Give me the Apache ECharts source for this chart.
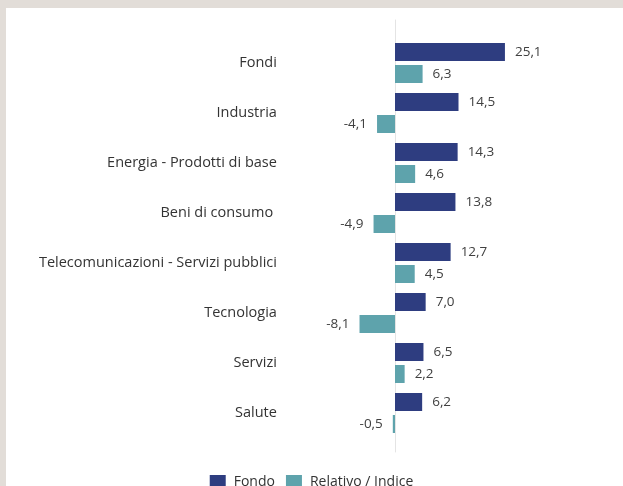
<!DOCTYPE html>
<html>
<head>
<meta charset="utf-8">
<script src="https://cdn.jsdelivr.net/npm/echarts@6/dist/echarts.min.js"></script>
<style>
  html,body{margin:0;padding:0;width:623px;height:486px;overflow:hidden;background:#e2ddd8;}
  #panel{position:absolute;left:6px;top:8px;right:0;bottom:0;background:#ffffff;}
  #chart{position:absolute;left:0;top:0;width:623px;height:486px;}
</style>
</head>
<body>
<div id="panel"></div>
<div id="chart"></div>
<script>
const categories = ["Fondi","Industria","Energia - Prodotti di base","Beni di consumo ","Telecomunicazioni - Servizi pubblici","Tecnologia","Servizi","Salute"];
const fondo = [25.1, 14.5, 14.3, 13.8, 12.7, 7.0, 6.5, 6.2];
const relativo = [6.3, -4.1, 4.6, -4.9, 4.5, -8.1, 2.2, -0.5];
const seriesNames = ["Fondo", "Relativo / Indice"];

const fmt = v => v.toFixed(1).replace('.', ',');
const toItems = arr => arr.map(v => ({value: v, label: {position: v < 0 ? 'left' : 'right'}}));

const font = "'Open Sans', 'Noto Sans', sans-serif";
const chart = echarts.init(document.getElementById('chart'), null, {renderer: 'canvas'});
chart.setOption({
  backgroundColor: 'transparent',
  animation: false,
  textStyle: {fontFamily: font},
  grid: [
    {left: 307.4, width: 262.8, top: 38, height: 400, containLabel: false, outerBoundsMode: 'none'},
    {left: 307.4, width: 262.8, top: 20, height: 432, containLabel: false, outerBoundsMode: 'none'}
  ],
  xAxis: [
    {gridIndex: 0, type: 'value', min: -20, max: 40, show: false},
    {gridIndex: 1, type: 'value', min: -20, max: 40, show: false}
  ],
  yAxis: [
    {gridIndex: 0, type: 'category', data: categories, inverse: true,
      axisLine: {show: false}, axisTick: {show: false}, splitLine: {show: false},
      axisLabel: {margin: 30.5, fontSize: 14.5, color: '#333333', fontFamily: font, padding: [0, 0, 7, 0]}},
    {gridIndex: 1, type: 'value', min: 0, max: 1,
      axisLine: {show: true, onZero: true, lineStyle: {color: '#e4e4e4', width: 1}},
      axisTick: {show: false}, axisLabel: {show: false}, splitLine: {show: false}}
  ],
  legend: {
    data: seriesNames, top: 470, left: 'center',
    itemWidth: 16, itemHeight: 15, itemGap: 11, icon: 'rect',
    textStyle: {fontSize: 14, color: '#333333', fontFamily: font, padding: [0, 0, 0, 3]}
  },
  series: [
    {name: seriesNames[0], type: 'bar', xAxisIndex: 0, yAxisIndex: 0, data: toItems(fondo),
      barWidth: 18, barGap: '22%', itemStyle: {color: '#2e3d80'},
      label: {show: true, distance: 10, fontSize: 13.5, color: '#404040', fontFamily: font, formatter: p => fmt(p.value)}},
    {name: seriesNames[1], type: 'bar', xAxisIndex: 0, yAxisIndex: 0, data: toItems(relativo),
      barWidth: 18, barGap: '22%', itemStyle: {color: '#5ea3ac'},
      label: {show: true, distance: 10, fontSize: 13.5, color: '#404040', fontFamily: font, formatter: p => fmt(p.value)}}
  ]
});
</script>
</body>
</html>
